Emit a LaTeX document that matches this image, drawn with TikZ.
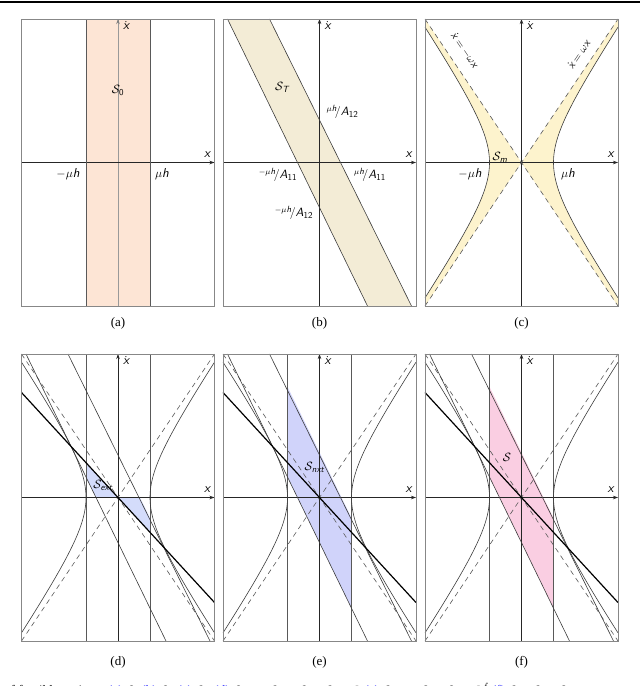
\documentclass[tikz,border=0pt]{standalone}
\usepackage{fontspec}
\setmainfont{Liberation Serif}
\newfontfamily\lblsf{lmsans10-regular.otf}[ItalicFont=lmsans10-oblique.otf]
\newcommand\sv[1]{\hbox{\lblsf\itshape #1}}
\newcommand\ssub[1]{\hbox{\lblsf\itshape\fontsize{9}{10}\selectfont #1}}
\newcommand\snum[1]{\hbox{\lblsf\fontsize{9}{10}\selectfont #1}}
\usetikzlibrary{arrows.meta}
\definecolor{fillA}{RGB}{253,229,213}
\definecolor{fillB}{RGB}{243,236,214}
\definecolor{fillC}{RGB}{253,243,205}
\definecolor{fillD}{RGB}{212,220,251}
\definecolor{fillE}{RGB}{208,211,250}
\definecolor{fillF}{RGB}{250,206,226}
\definecolor{framegray}{RGB}{135,135,135}
\definecolor{linegray}{RGB}{60,60,60}
\definecolor{linkblue}{RGB}{40,40,255}
\begin{document}
\begin{tikzpicture}[x=1pt,y=-1pt,
  boxframe/.style={draw=framegray,line width=0.8pt},
  axisarrow/.style={draw=black!85,line width=0.6pt,-{Stealth[length=5pt,width=3.5pt]}},
  bound/.style={draw=linegray,line width=0.6pt},
  vline/.style={draw=black!65,line width=0.8pt},
  asym/.style={draw=black!65,line width=0.6pt,dash pattern=on 5pt off 4pt},
  pline/.style={draw=black,line width=1.2pt},
  lbl/.style={font=\fontsize{13}{15}\selectfont,inner sep=1pt},
  smalllbl/.style={font=\fontsize{12}{14}\selectfont,inner sep=1pt},
  asymlbl/.style={font=\fontsize{11}{13}\selectfont,inner sep=0.5pt},
  captext/.style={font=\fontsize{13}{15}\selectfont,inner sep=0pt}]
\useasboundingbox (0,0) rectangle (640,686);
\draw[line width=1.6pt] (0,2) -- (640,2);

% ---------------- (a)
\begin{scope}[shift={(118,162.5)}]
  \fill[fillA] (-32,-143.5) rectangle (32,143.5);
  \draw[draw=black!40,line width=0.5pt] (0,143.5) -- (0,-143.5);
  \draw[axisarrow] (-96.5,0) -- (96.5,0);
  \draw[axisarrow,draw=black!50] (0,-140) -- (0,-143.5);
  \draw[vline] (-32,-143.5) -- (-32,143.5);
  \draw[vline] (32,-143.5) -- (32,143.5);
  \draw[boxframe] (-96.5,-143.5) rectangle (96.5,143.5);
  \node[lbl] (a-xd) at (8,-137) {$\dot{\sv{x}}$};
  \node[lbl] (a-x) at (89,-8) {$\sv{x}$};
  \node[lbl] (a-m) at (-50,11.5) {$-\mu\sv{h}$};
  \node[lbl] (a-p) at (44,11.5) {$\mu\sv{h}$};
  \node[lbl] (a-s) at (0,-72) {$\mathcal{S}_{\snum{0}}$};
  \node[captext] (a-c) at (0,160.5) {(a)};
\end{scope}

% ---------------- (b)
\begin{scope}[shift={(319.5,162.5)}]
  \fill[fillB] (-92,-143.5) -- (-50,-143.5) -- (92,143.5) -- (48,143.5) -- cycle;
  \draw[axisarrow] (-96.5,0) -- (96.5,0);
  \draw[axisarrow] (0,143.5) -- (0,-143.5);
  \draw[bound] (-92,-143.5) -- (48,143.5);
  \draw[bound] (-50,-143.5) -- (92,143.5);
  \draw[boxframe] (-96.5,-143.5) rectangle (96.5,143.5);
  \node[lbl] (b-xd) at (8,-137) {$\dot{\sv{x}}$};
  \node[lbl] (b-x) at (89,-8) {$\sv{x}$};
  \node[lbl] (b-s) at (-37.5,-75.5) {$\mathcal{S}_{\ssub{T}}$};
  \node[smalllbl] (b-1) at (23,-50.5) {${}^{\mu\ssub{h}}\!/\sv{A}_{\snum{12}}$};
  \node[smalllbl] (b-2) at (-41.5,12.5) {${}^{-\mu\ssub{h}}\!/\sv{A}_{\snum{11}}$};
  \node[smalllbl] (b-3) at (50.5,12.5) {${}^{\mu\ssub{h}}\!/\sv{A}_{\snum{11}}$};
  \node[smalllbl] (b-4) at (-25.5,50.5) {${}^{-\mu\ssub{h}}\!/\sv{A}_{\snum{12}}$};
  \node[captext] (b-c) at (0,160.5) {(b)};
\end{scope}

% ---------------- (c)
\begin{scope}[shift={(521.5,162.5)}]
  \fill[fillC] (0,0) -- (-96.5,-143.5) -- (-96.5,-135.4) -- plot[domain=-1.768:1.768,samples=50,variable=\t] ({-32*cosh(\t)},{47.58*sinh(\t)}) -- (-96.5,143.5) -- cycle;
  \fill[fillC] (0,0) -- (96.5,-143.5) -- (96.5,-135.4) -- plot[domain=-1.768:1.768,samples=50,variable=\t] ({32*cosh(\t)},{47.58*sinh(\t)}) -- (96.5,143.5) -- cycle;
  \draw[axisarrow] (-96.5,0) -- (96.5,0);
  \draw[axisarrow] (0,143.5) -- (0,-143.5);
  \draw[asym] (-96.5,-143.5) -- (96.5,143.5);
  \draw[asym] (-96.5,143.5) -- (96.5,-143.5);
  \draw[bound] plot[domain=-1.768:1.768,samples=50,variable=\t] ({-32*cosh(\t)},{47.58*sinh(\t)});
  \draw[bound] plot[domain=-1.768:1.768,samples=50,variable=\t] ({32*cosh(\t)},{47.58*sinh(\t)});
  \draw[boxframe] (-96.5,-143.5) rectangle (96.5,143.5);
  \node[lbl] (c-xd) at (8,-137) {$\dot{\sv{x}}$};
  \node[lbl] (c-x) at (89,-8) {$\sv{x}$};
  \node[lbl] (c-m) at (-51.5,11.5) {$-\mu\sv{h}$};
  \node[lbl] (c-p) at (46.5,11.5) {$\mu\sv{h}$};
  \node[lbl] (c-s) at (-21.5,-5.5) {$\mathcal{S}_{\ssub{m}}$};
  \node[asymlbl,rotate=-56] (c-l1) at (-56.8,-112.1) {$\dot{\sv{x}}=-\omega\sv{x}$};
  \node[asymlbl,rotate=56] (c-l2) at (57.1,-108.1) {$\dot{\sv{x}}=\omega\sv{x}$};
  \node[captext] (c-c) at (0,160.5) {(c)};
\end{scope}

% ---------------- common overlay for (d),(e),(f)
\newcommand\ovlines{%
  \draw[vline] (-32,-143.5) -- (-32,143.5);
  \draw[vline] (32,-143.5) -- (32,143.5);
  \draw[axisarrow] (-96.5,0) -- (96.5,0);
  \draw[axisarrow] (0,143.5) -- (0,-143.5);
  \draw[asym] (-96.5,-143.5) -- (96.5,143.5);
  \draw[asym] (-96.5,143.5) -- (96.5,-143.5);
  \draw[bound] plot[domain=-1.768:1.768,samples=50,variable=\t] ({-32*cosh(\t)},{47.58*sinh(\t)});
  \draw[bound] plot[domain=-1.768:1.768,samples=50,variable=\t] ({32*cosh(\t)},{47.58*sinh(\t)});
  \draw[bound] (-92,-143.5) -- (48,143.5);
  \draw[bound] (-50,-143.5) -- (92,143.5);
  \draw[pline] (-96.5,-105) -- (96.5,105);
  \draw[boxframe] (-96.5,-143.5) rectangle (96.5,143.5);
  \node[lbl] at (8,-137) {$\dot{\sv{x}}$};
  \node[lbl] at (89,-8) {$\sv{x}$};
}

% ---------------- (d)
\begin{scope}[shift={(118,497.5)}]
  \fill[fillD] (-32,-34.8) -- (0,0) -- (-22,0) -- (-32,-20.5) -- cycle;
  \fill[fillD] (32,34.8) -- (0,0) -- (22,0) -- (32,20.5) -- cycle;
  \ovlines
  \node[lbl] (d-s) at (-15,-12) {$\mathcal{S}_{\ssub{ext}}$};
  \node[captext] (d-c) at (0,164.5) {(d)};
\end{scope}

% ---------------- (e)
\begin{scope}[shift={(319.5,497.5)}]
  \fill[fillE] (-32,-110.7) -- (-32,-20.5) -- (32,110.7) -- (32,20.5) -- cycle;
  \ovlines
  \node[lbl] (e-s) at (-5,-30) {$\mathcal{S}_{\ssub{nxt}}$};
  \node[captext] (e-c) at (0,164.5) {(e)};
\end{scope}

% ---------------- (f)
\begin{scope}[shift={(521.5,497.5)}]
  \fill[fillF] (-32,-110.7) -- (-32,-20.5) -- (32,110.7) -- (32,20.5) -- cycle;
  \ovlines
  \node[lbl] (f-s) at (-14.5,-40.5) {$\mathcal{S}$};
  \node[captext] (f-c) at (0,164.5) {(f)};
\end{scope}

% ---------------- cut caption line
\begin{scope}
  \clip (0,0) rectangle (640,686);
  \node[anchor=base west,inner sep=0pt,font=\fontsize{13}{15}\selectfont] (capline) at (4,694)
   {of feasible regions: \textcolor{linkblue}{(a)} $\mathcal{S}_0$ \textcolor{linkblue}{(b)} $\mathcal{S}_T$ \textcolor{linkblue}{(c)} $\mathcal{S}_m$ \textcolor{linkblue}{(d)} $\mathcal{S}_{ext}=\mathcal{S}_m\cap\mathcal{S}_0\cap\mathcal{S}_T\cap\mathcal{P}$ \textcolor{linkblue}{(e)} $\mathcal{S}_{nxt}=\mathcal{S}_0\cap\mathcal{S}_T\cap\mathcal{P}^f$ \textcolor{linkblue}{(f)} $\mathcal{S}=\mathcal{S}_0\cap\mathcal{S}_T$};
\end{scope}
\end{tikzpicture}
\end{document}
